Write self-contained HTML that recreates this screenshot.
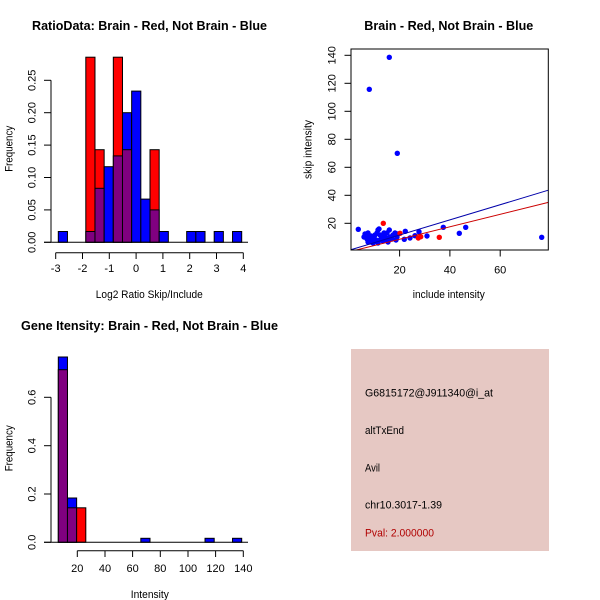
<!DOCTYPE html>
<html><head><meta charset="utf-8"><style>
html,body{margin:0;padding:0;background:#fff;}
svg{display:block;}
text{font-family:"Liberation Sans",Arial,sans-serif;fill:#000;}
</style></head><body>
<svg width="600" height="600" viewBox="0 0 600 600" xmlns="http://www.w3.org/2000/svg">
<rect x="0" y="0" width="600" height="600" fill="#fff"/>

<!-- ===== Top-left histogram ===== -->
<text x="149.5" y="30" font-size="13" font-weight="bold" text-anchor="middle" textLength="235" lengthAdjust="spacingAndGlyphs">RatioData: Brain - Red, Not Brain - Blue</text>
<g stroke="#000" stroke-width="1">
<!-- bin0 -->
<rect x="58.3" y="231.5" width="9.17" height="10.8" fill="#0000ff"/>
<!-- bin3 -->
<rect x="85.81" y="57.2" width="9.17" height="185.1" fill="#ff0000"/>
<rect x="85.81" y="231.5" width="9.17" height="10.8" fill="#800080"/>
<!-- bin4 -->
<rect x="94.98" y="149.7" width="9.17" height="92.6" fill="#ff0000"/>
<rect x="94.98" y="188.3" width="9.17" height="54" fill="#800080"/>
<!-- bin5 -->
<rect x="104.15" y="166.7" width="9.17" height="75.6" fill="#0000ff"/>
<!-- bin6 -->
<rect x="113.32" y="57.2" width="9.17" height="185.1" fill="#ff0000"/>
<rect x="113.32" y="155.9" width="9.17" height="86.4" fill="#800080"/>
<!-- bin7 -->
<rect x="122.49" y="112.7" width="9.17" height="129.6" fill="#0000ff"/>
<rect x="122.49" y="149.7" width="9.17" height="92.6" fill="#800080"/>
<!-- bin8 -->
<rect x="131.66" y="91.1" width="9.17" height="151.2" fill="#0000ff"/>
<!-- bin9 -->
<rect x="140.83" y="199.1" width="9.17" height="43.2" fill="#0000ff"/>
<!-- bin10 -->
<rect x="150.0" y="149.7" width="9.17" height="92.6" fill="#ff0000"/>
<rect x="150.0" y="209.9" width="9.17" height="32.4" fill="#800080"/>
<!-- bin11 -->
<rect x="159.17" y="231.5" width="9.17" height="10.8" fill="#0000ff"/>
<rect x="186.68" y="231.5" width="9.17" height="10.8" fill="#0000ff"/>
<rect x="195.85" y="231.5" width="9.17" height="10.8" fill="#0000ff"/>
<rect x="214.19" y="231.5" width="9.17" height="10.8" fill="#0000ff"/>
<rect x="232.53" y="231.5" width="9.17" height="10.8" fill="#0000ff"/>
</g>
<g stroke="#000" stroke-width="1" fill="none">
<line x1="44" y1="242.3" x2="248" y2="242.3"/>
<!-- y axis -->
<line x1="51" y1="80.3" x2="51" y2="242.3"/>
<line x1="44" y1="242.3" x2="51" y2="242.3"/>
<line x1="44" y1="209.9" x2="51" y2="209.9"/>
<line x1="44" y1="177.5" x2="51" y2="177.5"/>
<line x1="44" y1="145.1" x2="51" y2="145.1"/>
<line x1="44" y1="112.7" x2="51" y2="112.7"/>
<line x1="44" y1="80.3" x2="51" y2="80.3"/>
<!-- x axis -->
<line x1="55.7" y1="252.7" x2="243.3" y2="252.7"/>
<line x1="55.7" y1="252.7" x2="55.7" y2="259"/>
<line x1="82.5" y1="252.7" x2="82.5" y2="259"/>
<line x1="109.3" y1="252.7" x2="109.3" y2="259"/>
<line x1="136.1" y1="252.7" x2="136.1" y2="259"/>
<line x1="162.9" y1="252.7" x2="162.9" y2="259"/>
<line x1="189.7" y1="252.7" x2="189.7" y2="259"/>
<line x1="216.5" y1="252.7" x2="216.5" y2="259"/>
<line x1="243.3" y1="252.7" x2="243.3" y2="259"/>
</g>
<g font-size="11" text-anchor="middle">
<text x="55.7" y="272">-3</text>
<text x="82.5" y="272">-2</text>
<text x="109.3" y="272">-1</text>
<text x="136.1" y="272">0</text>
<text x="162.9" y="272">1</text>
<text x="189.7" y="272">2</text>
<text x="216.5" y="272">3</text>
<text x="243.3" y="272">4</text>
<text transform="translate(35.7,242.3) rotate(-90)">0.00</text>
<text transform="translate(35.7,209.9) rotate(-90)">0.05</text>
<text transform="translate(35.7,177.5) rotate(-90)">0.10</text>
<text transform="translate(35.7,145.1) rotate(-90)">0.15</text>
<text transform="translate(35.7,112.7) rotate(-90)">0.20</text>
<text transform="translate(35.7,80.3) rotate(-90)">0.25</text>
<text x="149.3" y="298" textLength="107" lengthAdjust="spacingAndGlyphs">Log2 Ratio Skip/Include</text>
<text transform="translate(12.3,148.8) rotate(-90)" textLength="46" lengthAdjust="spacingAndGlyphs">Frequency</text>
</g>

<!-- ===== Top-right scatter ===== -->
<text x="448.8" y="30" font-size="13" font-weight="bold" text-anchor="middle" textLength="169" lengthAdjust="spacingAndGlyphs">Brain - Red, Not Brain - Blue</text>
<defs><clipPath id="cp"><rect x="351" y="49" width="197.3" height="201"/></clipPath></defs>
<g fill="#0000ff">
<circle cx="389.3" cy="57.3" r="2.7"/>
<circle cx="369.3" cy="89.3" r="2.7"/>
<circle cx="397.3" cy="153.3" r="2.7"/>
<circle cx="358.3" cy="229.3" r="2.7"/>
<circle cx="541.7" cy="237.3" r="2.7"/>
<circle cx="465.7" cy="227.3" r="2.7"/>
<circle cx="459.3" cy="233.3" r="2.7"/>
<circle cx="443.3" cy="227.3" r="2.7"/>
<circle cx="427" cy="236" r="2.7"/>
<circle cx="419" cy="231.7" r="2.7"/>
<circle cx="405.3" cy="231.3" r="2.7"/>
<circle cx="410" cy="238" r="2.7"/>
<circle cx="404.3" cy="239.3" r="2.7"/>
<circle cx="415" cy="235.7" r="2.7"/>
<circle cx="389.3" cy="230" r="2.7"/>
<circle cx="365" cy="234" r="2.7"/>
<circle cx="368" cy="233" r="2.7"/>
<circle cx="369" cy="237" r="2.7"/>
<circle cx="371" cy="236" r="2.7"/>
<circle cx="367" cy="239" r="2.7"/>
<circle cx="370" cy="242" r="2.7"/>
<circle cx="374" cy="237" r="2.7"/>
<circle cx="377" cy="233" r="2.7"/>
<circle cx="378" cy="230" r="2.7"/>
<circle cx="379" cy="229" r="2.7"/>
<circle cx="380" cy="235" r="2.7"/>
<circle cx="376" cy="240" r="2.7"/>
<circle cx="373" cy="243" r="2.7"/>
<circle cx="368" cy="242" r="2.7"/>
<circle cx="382" cy="237" r="2.7"/>
<circle cx="385" cy="237" r="2.7"/>
<circle cx="387" cy="233" r="2.7"/>
<circle cx="390" cy="237" r="2.7"/>
<circle cx="393" cy="235" r="2.7"/>
<circle cx="395" cy="233" r="2.7"/>
<circle cx="397" cy="237" r="2.7"/>
<circle cx="387" cy="239" r="2.7"/>
<circle cx="383" cy="241" r="2.7"/>
<circle cx="364" cy="237" r="2.7"/>
<circle cx="372" cy="239" r="2.7"/>
<circle cx="375" cy="235" r="2.7"/>
<circle cx="380" cy="240" r="2.7"/>
<circle cx="384" cy="233" r="2.7"/>
<circle cx="392" cy="239" r="2.7"/>
<circle cx="398" cy="234" r="2.7"/>
<circle cx="396" cy="240" r="2.7"/>
<circle cx="388" cy="242" r="2.7"/>
<circle cx="378" cy="243" r="2.7"/>
</g>
<g fill="#ff0000">
<circle cx="383.3" cy="223.3" r="2.7"/>
<circle cx="400" cy="233.3" r="2.7"/>
<circle cx="418.3" cy="238" r="2.7"/>
<circle cx="420.7" cy="236.7" r="2.7"/>
<circle cx="439.3" cy="237.3" r="2.7"/>
</g>
<g clip-path="url(#cp)" stroke-width="1">
<line x1="351" y1="249.7" x2="548.3" y2="190.2" stroke="#0000aa"/>
<line x1="351" y1="251.3" x2="548.3" y2="202.4" stroke="#cc0000"/>
</g>
<g stroke="#000" stroke-width="1" fill="none">
<rect x="351" y="49" width="197.3" height="201"/>
<line x1="399.6" y1="250" x2="399.6" y2="256.5"/>
<line x1="449.9" y1="250" x2="449.9" y2="256.5"/>
<line x1="500.2" y1="250" x2="500.2" y2="256.5"/>
<line x1="344.5" y1="223.3" x2="351" y2="223.3"/>
<line x1="344.5" y1="195.3" x2="351" y2="195.3"/>
<line x1="344.5" y1="167.3" x2="351" y2="167.3"/>
<line x1="344.5" y1="139.3" x2="351" y2="139.3"/>
<line x1="344.5" y1="111.3" x2="351" y2="111.3"/>
<line x1="344.5" y1="83.3" x2="351" y2="83.3"/>
<line x1="344.5" y1="55.3" x2="351" y2="55.3"/>
</g>
<g font-size="11" text-anchor="middle">
<text x="399.6" y="273.5">20</text>
<text x="449.9" y="273.5">40</text>
<text x="500.2" y="273.5">60</text>
<text transform="translate(335.7,223.3) rotate(-90)">20</text>
<text transform="translate(335.7,195.3) rotate(-90)">40</text>
<text transform="translate(335.7,167.3) rotate(-90)">60</text>
<text transform="translate(335.7,139.3) rotate(-90)">80</text>
<text transform="translate(335.7,111.3) rotate(-90)">100</text>
<text transform="translate(335.7,83.3) rotate(-90)">120</text>
<text transform="translate(335.7,55.3) rotate(-90)">140</text>
<text x="448.8" y="298" textLength="72" lengthAdjust="spacingAndGlyphs">include intensity</text>
<text transform="translate(311.3,149.5) rotate(-90)" textLength="59" lengthAdjust="spacingAndGlyphs">skip intensity</text>
</g>

<!-- ===== Bottom-left histogram ===== -->
<text x="149.5" y="330" font-size="13" font-weight="bold" text-anchor="middle" textLength="257" lengthAdjust="spacingAndGlyphs">Gene Itensity: Brain - Red, Not Brain - Blue</text>
<g stroke="#000" stroke-width="1">
<rect x="58.3" y="357.0" width="9.17" height="185.3" fill="#0000ff"/>
<rect x="58.3" y="369.7" width="9.17" height="172.6" fill="#800080"/>
<rect x="67.47" y="498.0" width="9.17" height="44.3" fill="#0000ff"/>
<rect x="67.47" y="507.8" width="9.17" height="34.5" fill="#800080"/>
<rect x="76.64" y="507.8" width="9.17" height="34.5" fill="#ff0000"/>
<rect x="140.83" y="538.3" width="9.17" height="4.0" fill="#0000ff"/>
<rect x="205.02" y="538.3" width="9.17" height="4.0" fill="#0000ff"/>
<rect x="232.53" y="538.3" width="9.17" height="4.0" fill="#0000ff"/>
</g>
<g stroke="#000" stroke-width="1" fill="none">
<line x1="44" y1="542.3" x2="248" y2="542.3"/>
<line x1="51" y1="397.3" x2="51" y2="542.3"/>
<line x1="44" y1="542.3" x2="51" y2="542.3"/>
<line x1="44" y1="494" x2="51" y2="494"/>
<line x1="44" y1="445.7" x2="51" y2="445.7"/>
<line x1="44" y1="397.3" x2="51" y2="397.3"/>
<line x1="77.3" y1="550.7" x2="243.3" y2="550.7"/>
<line x1="77.3" y1="550.7" x2="77.3" y2="557"/>
<line x1="105" y1="550.7" x2="105" y2="557"/>
<line x1="132.6" y1="550.7" x2="132.6" y2="557"/>
<line x1="160.3" y1="550.7" x2="160.3" y2="557"/>
<line x1="188" y1="550.7" x2="188" y2="557"/>
<line x1="215.6" y1="550.7" x2="215.6" y2="557"/>
<line x1="243.3" y1="550.7" x2="243.3" y2="557"/>
</g>
<g font-size="11" text-anchor="middle">
<text x="77.3" y="572">20</text>
<text x="105" y="572">40</text>
<text x="132.6" y="572">60</text>
<text x="160.3" y="572">80</text>
<text x="188" y="572">100</text>
<text x="215.6" y="572">120</text>
<text x="243.3" y="572">140</text>
<text transform="translate(35.7,542.3) rotate(-90)">0.0</text>
<text transform="translate(35.7,494) rotate(-90)">0.2</text>
<text transform="translate(35.7,445.7) rotate(-90)">0.4</text>
<text transform="translate(35.7,397.3) rotate(-90)">0.6</text>
<text x="149.8" y="598" textLength="38" lengthAdjust="spacingAndGlyphs">Intensity</text>
<text transform="translate(12.3,448.3) rotate(-90)" textLength="46" lengthAdjust="spacingAndGlyphs">Frequency</text>
</g>

<!-- ===== Bottom-right info box ===== -->
<rect x="351" y="349" width="198" height="202" fill="#e6c8c3"/>
<g font-size="11">
<text x="365" y="396.5" textLength="128" lengthAdjust="spacingAndGlyphs">G6815172@J911340@i_at</text>
<text x="365" y="434" textLength="39" lengthAdjust="spacingAndGlyphs">altTxEnd</text>
<text x="365" y="471.5" textLength="15" lengthAdjust="spacingAndGlyphs">Avil</text>
<text x="365" y="508.5" textLength="77" lengthAdjust="spacingAndGlyphs">chr10.3017-1.39</text>
<text x="365" y="536.5" fill="#b00000" style="fill:#b00000" textLength="69" lengthAdjust="spacingAndGlyphs">Pval: 2.000000</text>
</g>
</svg>
</body></html>
